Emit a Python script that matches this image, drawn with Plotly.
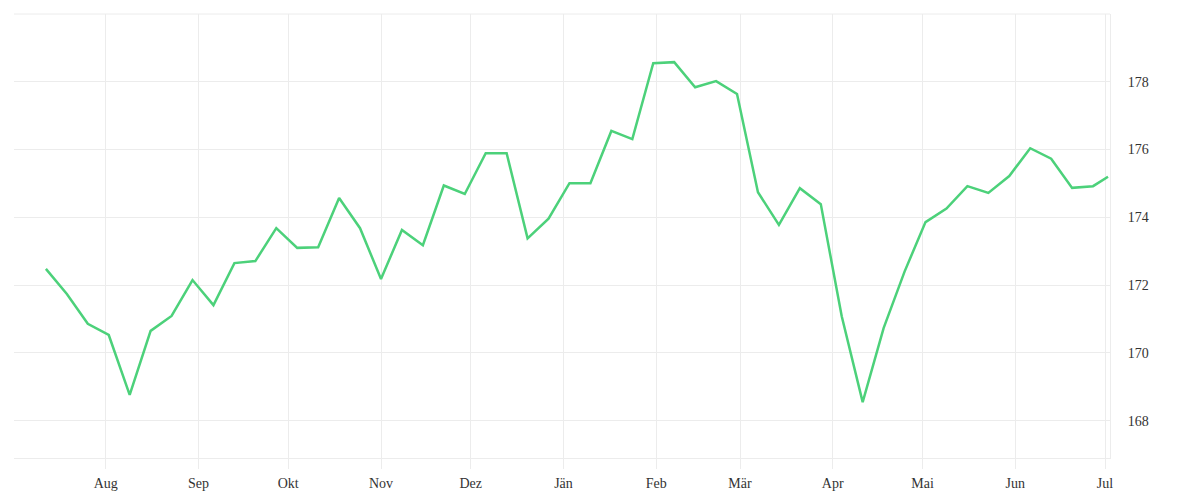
import plotly.graph_objs as go

# weekly readings
dates = [
    "2022-07-12", "2022-07-19", "2022-07-26", "2022-08-02", "2022-08-09",
    "2022-08-16", "2022-08-23", "2022-08-30", "2022-09-06", "2022-09-13",
    "2022-09-20", "2022-09-27", "2022-10-04", "2022-10-11", "2022-10-18",
    "2022-10-25", "2022-11-01", "2022-11-08", "2022-11-15", "2022-11-22",
    "2022-11-29", "2022-12-06", "2022-12-13", "2022-12-20", "2022-12-27",
    "2023-01-03", "2023-01-10", "2023-01-17", "2023-01-24", "2023-01-31",
    "2023-02-07", "2023-02-14", "2023-02-21", "2023-02-28", "2023-03-07",
    "2023-03-14", "2023-03-21", "2023-03-28", "2023-04-04", "2023-04-11",
    "2023-04-18", "2023-04-25", "2023-05-02", "2023-05-09", "2023-05-16",
    "2023-05-23", "2023-05-30", "2023-06-06", "2023-06-13", "2023-06-20",
    "2023-06-27", "2023-07-02",
]
values = [
    172.48, 171.74, 170.86, 170.53, 168.76, 170.65, 171.09, 172.15, 171.41, 172.65,
    172.71, 173.68, 173.10, 173.12, 174.57, 173.68, 172.18, 173.63, 173.18, 174.94,
    174.69, 175.89, 175.89, 173.38, 173.96, 175.01, 175.01, 176.55, 176.31, 178.55,
    178.58, 177.84, 178.02, 177.64, 174.74, 173.78, 174.86, 174.39, 171.08, 168.55,
    170.73, 172.40, 173.86, 174.26, 174.92, 174.72, 175.22, 176.04, 175.73, 174.87,
    174.92, 175.20,
]

month_ticks = [
    "2022-08-01", "2022-09-01", "2022-10-01", "2022-11-01", "2022-12-01",
    "2023-01-01", "2023-02-01", "2023-03-01", "2023-04-01", "2023-05-01",
    "2023-06-01", "2023-07-01",
]
month_labels = ["Aug", "Sep", "Okt", "Nov", "Dez", "Jän", "Feb", "Mär",
                "Apr", "Mai", "Jun", "Jul"]
y_ticks = [168, 170, 172, 174, 176, 178]

grid = "#ececec"

trace = go.Scatter(
    x=dates,
    y=values,
    mode="lines",
    line=dict(color="#4cd17a", width=2.5),
    hoverinfo="x+y",
)

layout = go.Layout(
    width=1184,
    height=484,
    margin=dict(l=6, r=82, t=6, b=34),
    paper_bgcolor="white",
    plot_bgcolor="white",
    showlegend=False,
    font=dict(family="Liberation Serif, DejaVu Serif, serif", size=14, color="#333"),
    xaxis=dict(
        type="date",
        automargin=False,
        range=["2022-07-01 08:00", "2023-07-02 16:00"],
        tickvals=month_ticks,
        ticktext=month_labels,
        showgrid=True,
        gridcolor=grid,
        gridwidth=1,
        showline=True,
        linecolor=grid,
        linewidth=1,
        ticks="outside",
        ticklen=10,
        tickcolor=grid,
        ticklabelstandoff=2,
        zeroline=False,
    ),
    yaxis=dict(
        side="right",
        automargin=False,
        range=[166.9, 180.0],
        tickvals=y_ticks,
        showgrid=True,
        gridcolor=grid,
        gridwidth=1,
        showline=True,
        linecolor=grid,
        linewidth=1,
        ticks="outside",
        ticklen=14,
        tickcolor="rgba(0,0,0,0)",
        zeroline=False,
    ),
    shapes=[
        dict(type="line", xref="paper", yref="paper", x0=0, x1=1, y0=1, y1=1,
             line=dict(color=grid, width=1)),
    ],
)

fig = go.Figure(data=[trace], layout=layout)
fig.write_html("out.html")
